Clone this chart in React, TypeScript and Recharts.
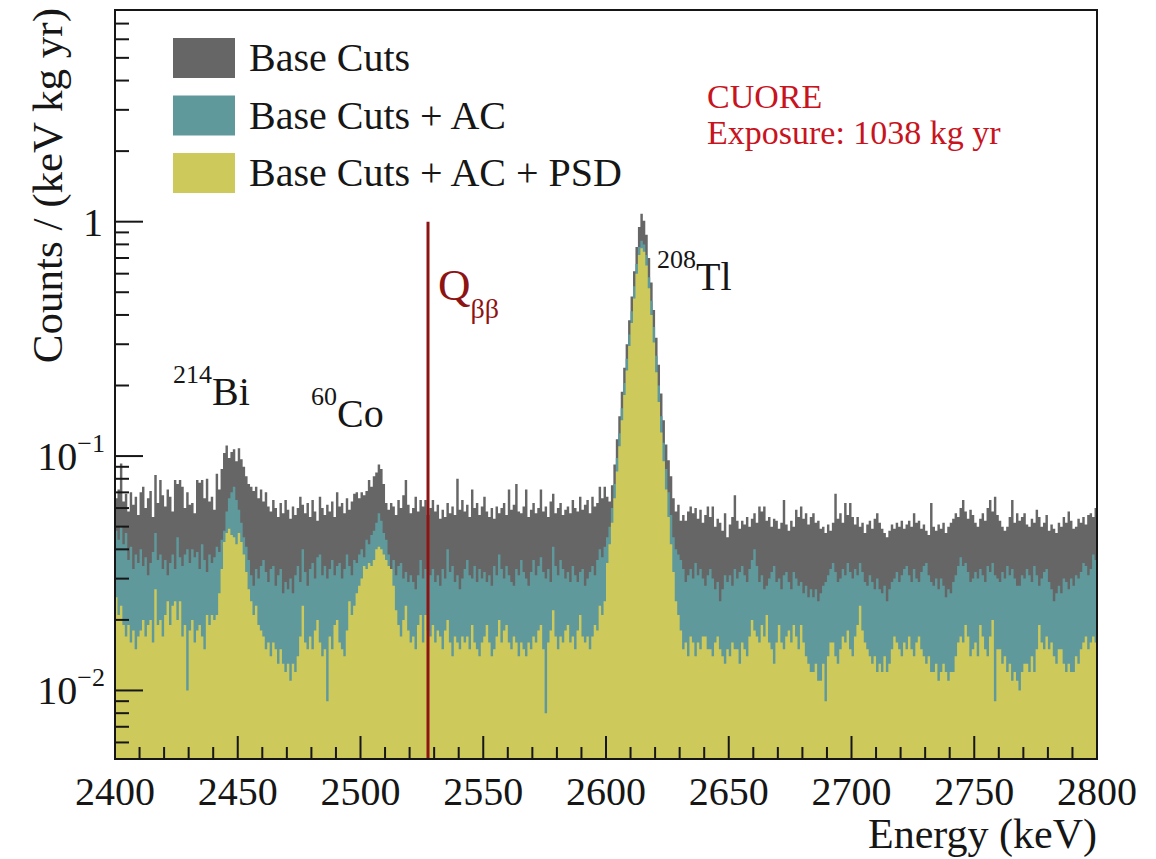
import React from "react";
import { ComposedChart, Area, XAxis, YAxis, ReferenceLine } from "recharts";

const SERIF = "'Liberation Serif', 'Times New Roman', Times, serif";

const WIDTH = 1156;
const HEIGHT = 859;
const PLOT = { left: 115, top: 10, right: 1097, bottom: 759 };

// energy window (keV); every histogram below has 1 keV bins starting at E_MIN
const E_MIN = 2400;
const E_MAX = 2800;
const Q_BB = 2527.5;

// counts / (keV kg yr), stored in units of 1e-3
const BASE_CUTS = [
  66, 72, 93, 64, 69, 58, 70, 62, 67, 56, 70, 74, 60, 66, 71, 55, 83, 63, 79, 68,
  61, 72, 67, 58, 79, 76, 79, 74, 60, 70, 62, 63, 57, 79, 77, 79, 66, 80, 64, 67,
  59, 84, 72, 88, 103, 111, 98, 104, 107, 95, 108, 97, 90, 82, 76, 74, 71, 74, 66, 72,
  64, 70, 61, 58, 65, 60, 55, 63, 57, 65, 59, 54, 61, 56, 60, 67, 62, 57, 63, 55,
  65, 58, 53, 67, 60, 56, 62, 58, 64, 55, 70, 61, 63, 57, 66, 59, 64, 69, 70, 66,
  70, 68, 71, 79, 74, 82, 85, 92, 88, 76, 63, 59, 63, 61, 56, 65, 60, 68, 79, 62,
  57, 60, 67, 58, 65, 61, 65, 56, 60, 65, 58, 62, 54, 59, 55, 63, 57, 61, 56, 80,
  59, 65, 58, 62, 55, 72, 60, 63, 56, 61, 67, 58, 55, 60, 54, 61, 57, 60, 63, 56,
  72, 59, 62, 76, 58, 57, 61, 72, 55, 59, 63, 57, 60, 72, 58, 61, 55, 64, 69, 57,
  60, 63, 56, 59, 61, 57, 65, 60, 58, 67, 59, 62, 65, 57, 67, 61, 63, 74, 66, 74,
  67, 64, 75, 92, 118, 148, 188, 238, 300, 380, 480, 615, 780, 950, 1080, 1010, 880, 700, 550, 420,
  320, 245, 185, 142, 112, 96, 82, 66, 58, 62, 53, 56, 53, 58, 61, 57, 60, 54, 59, 52,
  56, 61, 55, 61, 50, 54, 52, 48, 57, 45, 51, 55, 68, 53, 49, 53, 51, 55, 50, 54,
  57, 52, 61, 58, 61, 53, 55, 50, 54, 53, 49, 52, 65, 51, 48, 53, 50, 59, 55, 61,
  54, 57, 51, 55, 57, 52, 53, 49, 50, 47, 51, 48, 52, 69, 54, 57, 52, 63, 56, 63,
  55, 51, 55, 50, 52, 47, 51, 53, 49, 54, 57, 52, 49, 47, 45, 48, 51, 49, 52, 50,
  53, 49, 51, 53, 50, 57, 52, 53, 49, 51, 48, 46, 63, 50, 48, 51, 49, 52, 47, 50,
  52, 54, 57, 55, 60, 65, 58, 54, 59, 56, 52, 50, 54, 57, 53, 60, 65, 58, 67, 56,
  53, 50, 48, 50, 55, 65, 52, 57, 53, 55, 57, 51, 50, 54, 52, 59, 55, 50, 52, 56,
  48, 51, 49, 47, 52, 50, 55, 52, 58, 53, 49, 50, 54, 52, 55, 51, 56, 57, 55, 60,
];

const BASE_AC = [
  48, 44, 50, 42, 47, 36, 41, 33, 38, 35, 40, 34, 37, 31, 35, 39, 47, 36, 38, 33,
  36, 31, 35, 38, 33, 45, 37, 34, 38, 40, 35, 40, 37, 39, 33, 42, 36, 32, 38, 35,
  37, 41, 39, 44, 48, 58, 66, 70, 74, 65, 59, 52, 45, 41, 36, 31, 28, 33, 30, 34,
  36, 32, 29, 33, 34, 28, 31, 33, 26, 29, 27, 30, 26, 31, 34, 29, 40, 32, 28, 33,
  35, 30, 37, 38, 31, 34, 30, 33, 36, 31, 34, 35, 30, 33, 38, 34, 31, 36, 35, 38,
  40, 37, 44, 42, 46, 48, 52, 57, 53, 47, 44, 38, 33, 36, 31, 34, 35, 30, 32, 29,
  31, 29, 27, 31, 36, 30, 33, 36, 31, 33, 29, 31, 28, 33, 30, 40, 32, 34, 29, 31,
  27, 30, 33, 36, 31, 30, 34, 29, 33, 30, 32, 29, 31, 28, 34, 31, 38, 33, 30, 34,
  31, 29, 28, 33, 31, 36, 32, 30, 28, 32, 36, 31, 34, 37, 32, 30, 33, 29, 41, 34,
  31, 36, 33, 30, 32, 29, 34, 31, 29, 32, 33, 28, 30, 32, 34, 31, 36, 40, 37, 41,
  45, 50, 60, 76, 98, 125, 160, 205, 260, 330, 415, 530, 660, 780, 830, 800, 720, 580, 460, 355,
  268, 200, 148, 114, 88, 70, 56, 45, 40, 38, 36, 33, 29, 31, 33, 30, 35, 31, 33, 30,
  28, 31, 33, 30, 27, 29, 24, 27, 31, 29, 31, 28, 33, 30, 32, 34, 31, 29, 33, 36,
  40, 34, 29, 31, 27, 28, 30, 32, 34, 29, 30, 27, 31, 32, 29, 27, 32, 30, 28, 29,
  26, 28, 25, 27, 25, 27, 24, 26, 28, 29, 31, 33, 35, 32, 29, 30, 33, 31, 35, 32,
  30, 33, 31, 35, 32, 29, 28, 31, 29, 27, 30, 27, 26, 28, 24, 27, 29, 30, 32, 29,
  31, 33, 34, 31, 29, 33, 30, 29, 32, 34, 35, 31, 29, 28, 30, 27, 30, 28, 25, 27,
  26, 29, 31, 34, 37, 34, 35, 32, 29, 30, 32, 30, 33, 31, 29, 34, 32, 35, 31, 30,
  29, 32, 30, 34, 31, 33, 30, 28, 28, 31, 30, 33, 31, 29, 34, 31, 28, 30, 32, 33,
  29, 27, 24, 26, 28, 26, 30, 29, 27, 30, 28, 31, 30, 32, 35, 34, 31, 33, 38, 36,
];

const BASE_AC_PSD = [
  25, 21, 23, 19, 17, 19, 16, 18, 15, 17, 18, 20, 17, 19, 20, 16, 27, 19, 20, 17,
  21, 24, 19, 23, 24, 20, 24, 17, 19, 10, 18, 20, 16, 18, 19, 17, 15, 21, 19, 21,
  20, 21, 26, 33, 43, 47, 49, 46, 45, 42, 47, 43, 38, 32, 27, 24, 21, 23, 19, 18,
  17, 15, 16, 14, 16, 15, 13, 15, 13, 12, 13, 11, 13, 12, 14, 17, 23, 16, 15, 17,
  15, 18, 20, 16, 14, 15, 9, 17, 15, 19, 20, 16, 15, 14, 18, 24, 21, 23, 26, 28,
  30, 34, 33, 35, 34, 36, 40, 41, 40, 38, 36, 34, 33, 28, 22, 19, 17, 20, 23, 18,
  16, 17, 15, 19, 21, 16, 21, 18, 17, 19, 16, 18, 17, 15, 18, 20, 16, 14, 17, 16,
  15, 17, 16, 17, 15, 19, 16, 15, 14, 16, 17, 19, 16, 14, 15, 17, 20, 16, 18, 19,
  16, 15, 17, 16, 14, 16, 15, 14, 16, 15, 17, 16, 18, 19, 15, 8, 16, 18, 22, 17,
  15, 17, 16, 18, 19, 16, 17, 15, 18, 21, 17, 16, 17, 15, 17, 19, 18, 23, 21, 24,
  35, 42, 52, 66, 86, 110, 142, 182, 232, 295, 370, 470, 600, 720, 770, 745, 650, 520, 400, 305,
  228, 170, 126, 95, 72, 55, 42, 32, 24, 21, 18, 15, 16, 14, 17, 16, 14, 16, 15, 17,
  17, 15, 15, 14, 16, 17, 15, 14, 13, 15, 14, 16, 15, 15, 13, 16, 15, 14, 17, 20,
  18, 17, 16, 19, 17, 21, 16, 15, 13, 16, 19, 16, 15, 17, 18, 16, 19, 17, 15, 19,
  16, 14, 13, 12, 12, 13, 11, 11, 13, 9, 14, 16, 16, 14, 13, 15, 17, 16, 18, 15,
  14, 17, 19, 23, 18, 16, 15, 14, 13, 14, 12, 13, 12, 14, 12, 13, 15, 17, 16, 15,
  14, 16, 15, 17, 15, 14, 16, 17, 15, 14, 13, 14, 12, 12, 13, 11, 12, 13, 12, 11,
  12, 12, 14, 16, 17, 16, 19, 17, 14, 15, 16, 14, 19, 17, 15, 14, 17, 20, 9, 15,
  15, 13, 14, 12, 13, 11, 12, 11, 10, 12, 13, 13, 12, 14, 12, 15, 19, 16, 15, 17,
  15, 16, 14, 13, 15, 15, 13, 12, 13, 12, 12, 14, 13, 15, 16, 17, 15, 16, 17, 16,
];

const SERIES = [
  { key: "base", name: "Base Cuts", color: "#666666", values: BASE_CUTS },
  { key: "ac", name: "Base Cuts + AC", color: "#5f999c", values: BASE_AC },
  { key: "psd", name: "Base Cuts + AC + PSD", color: "#cdc95b", values: BASE_AC_PSD },
];

const X_LABELS = [2400, 2450, 2500, 2550, 2600, 2650, 2700, 2750, 2800];
const Y_DECADES = [0.01, 0.1, 1];
const Y_MIN = 0.0051;
const Y_MAX = 8;

// minor ticks every 10 keV
const X_TICKS: number[] = [];
for (let e = E_MIN; e <= E_MAX; e += 10) X_TICKS.push(e);

// 1..9 x 10^k inside the visible range
const Y_TICKS: number[] = [];
for (let k = -3; k <= 0; k++) {
  for (let m = 1; m <= 9; m++) {
    const v = m * Math.pow(10, k);
    if (v > Y_MIN && v < Y_MAX) Y_TICKS.push(v);
  }
}

// stepAfter needs a closing point at the upper edge of the last bin
const data = Array.from({ length: BASE_CUTS.length + 1 }, (_, i) => {
  const row: Record<string, number> = { energy: E_MIN + i };
  SERIES.forEach((s) => {
    row[s.key] = s.values[Math.min(i, s.values.length - 1)] / 1000;
  });
  return row;
});

const INK = "#161616";

const XTick = ({ x, y, payload }: any) => {
  const v = payload.value;
  const major = X_LABELS.includes(v);
  return (
    <g>
      <line x1={x} x2={x} y1={y} y2={y - (major ? 23 : 12)} stroke={INK} strokeWidth={2} />
      {major && (
        <text x={x} y={y + 46} textAnchor="middle" fontSize={40} fontFamily={SERIF} fill={INK}>
          {v}
        </text>
      )}
    </g>
  );
};

const YTick = ({ x, y, payload }: any) => {
  const v = payload.value;
  const decade = Y_DECADES.find((d) => Math.abs(v / d - 1) < 1e-6);
  const exp = decade !== undefined ? Math.round(Math.log10(decade)) : 0;
  return (
    <g>
      <line x1={x} x2={x + (decade !== undefined ? 28 : 14)} y1={y} y2={y} stroke={INK} strokeWidth={2} />
      {decade !== undefined &&
        (exp === 0 ? (
          <text x={x - 12} y={y + 14} textAnchor="end" fontSize={40} fontFamily={SERIF} fill={INK}>
            1
          </text>
        ) : (
          <text x={x - 10} y={y + 14} textAnchor="end" fontSize={40} fontFamily={SERIF} fill={INK}>
            10
            <tspan fontSize={26} dy={-18}>
              {"\u2212" + Math.abs(exp)}
            </tspan>
          </text>
        ))}
    </g>
  );
};

// ²¹⁴Bi style label: small mass number raised before the symbol
const Isotope = ({ x, y, mass, symbol }: { x: number; y: number; mass: string; symbol: string }) => (
  <text x={x} y={y} fontFamily={SERIF} fill={INK} fontSize={40}>
    <tspan fontSize={26} dy={-22}>
      {mass}
    </tspan>
    <tspan dy={22}>{symbol}</tspan>
  </text>
);

export default function App() {
  return (
    <div style={{ position: "absolute", left: 0, top: 0, width: WIDTH, height: HEIGHT, background: "#fff" }}>
      <ComposedChart
        width={WIDTH}
        height={HEIGHT}
        data={data}
        margin={{ top: PLOT.top, right: WIDTH - PLOT.right, left: 0, bottom: 0 }}
      >
        {SERIES.map((s) => (
          <Area
            key={s.key}
            type="stepAfter"
            dataKey={s.key}
            name={s.name}
            fill={s.color}
            fillOpacity={1}
            stroke="none"
            baseValue={Y_MIN}
            dot={false}
            activeDot={false}
            isAnimationActive={false}
          />
        ))}
        <ReferenceLine
          segment={[
            { x: Q_BB, y: 1 },
            { x: Q_BB, y: Y_MIN },
          ]}
          stroke="#8e1414"
          strokeWidth={3}
        />
        <XAxis
          dataKey="energy"
          type="number"
          domain={[E_MIN, E_MAX]}
          allowDataOverflow
          ticks={X_TICKS}
          interval={0}
          tick={<XTick />}
          tickSize={0}
          tickMargin={0}
          tickLine={false}
          axisLine={false}
          height={HEIGHT - PLOT.bottom}
        />
        <YAxis
          type="number"
          scale="log"
          domain={[Y_MIN, Y_MAX]}
          allowDataOverflow
          ticks={Y_TICKS}
          interval={0}
          tick={<YTick />}
          tickSize={0}
          tickMargin={0}
          tickLine={false}
          axisLine={false}
          width={PLOT.left}
        />
      </ComposedChart>

      <svg
        width={WIDTH}
        height={HEIGHT}
        style={{ position: "absolute", left: 0, top: 0, pointerEvents: "none" }}
      >
        <rect
          x={PLOT.left}
          y={PLOT.top}
          width={PLOT.right - PLOT.left}
          height={PLOT.bottom - PLOT.top}
          fill="none"
          stroke={INK}
          strokeWidth={2}
        />

        {SERIES.map((s, i) => (
          <g key={s.key}>
            <rect x={173} y={38 + i * 57.5} width={62} height={40} fill={s.color} />
            <text x={249} y={71 + i * 57.5} fontSize={40} fontFamily={SERIF} fill={INK}>
              {s.name}
            </text>
          </g>
        ))}

        <text x={707} y={108} fontSize={34} fontFamily={SERIF} fill="#c8141e">
          CUORE
        </text>
        <text x={707} y={144} fontSize={34} fontFamily={SERIF} fill="#c8141e">
          Exposure: 1038 kg yr
        </text>

        <Isotope x={173} y={405} mass="214" symbol="Bi" />
        <Isotope x={311} y={427} mass="60" symbol="Co" />
        <Isotope x={657} y={290} mass="208" symbol="Tl" />

        <text x={438} y={300} fontSize={45} fontFamily={SERIF} fill="#8e1414">
          Q
          <tspan fontSize={28} dy={18}>
            ββ
          </tspan>
        </text>

        <text x={PLOT.right} y={848} textAnchor="end" fontSize={42} fontFamily={SERIF} fill={INK}>
          Energy (keV)
        </text>
        <text
          x={0}
          y={0}
          transform="translate(62 8) rotate(-90)"
          textAnchor="end"
          fontSize={43}
          fontFamily={SERIF}
          fill={INK}
        >
          Counts / (keV kg yr)
        </text>
      </svg>
    </div>
  );
}
